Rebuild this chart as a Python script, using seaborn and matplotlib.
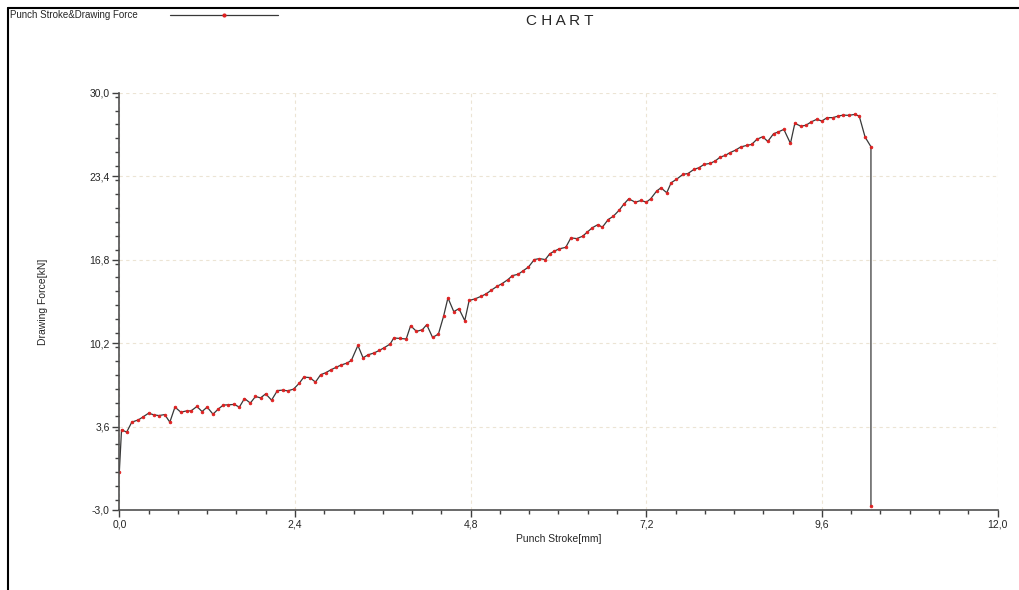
import numpy as np
import pandas as pd
import matplotlib.pyplot as plt
import seaborn as sns
from matplotlib.ticker import FixedLocator, MultipleLocator

# --- DATA ---
stroke = [0.00, 0.03, 0.10, 0.17, 0.26, 0.32, 0.40, 0.47, 0.54, 0.62, 0.69, 0.76,
          0.84, 0.92, 0.98, 1.06, 1.13, 1.20, 1.28, 1.35, 1.42, 1.49, 1.57, 1.64,
          1.71, 1.79, 1.86, 1.93, 2.00, 2.08, 2.16, 2.23, 2.30, 2.38, 2.46, 2.52,
          2.60, 2.68, 2.75, 2.82, 2.89, 2.96, 3.03, 3.11, 3.17, 3.26, 3.33, 3.40,
          3.48, 3.55, 3.62, 3.70, 3.75, 3.84, 3.92, 3.98, 4.06, 4.14, 4.20, 4.28,
          4.36, 4.43, 4.49, 4.57, 4.64, 4.72, 4.78, 4.86, 4.94, 5.01, 5.08, 5.16,
          5.23, 5.31, 5.37, 5.45, 5.52, 5.59, 5.67, 5.74, 5.82, 5.88, 5.94, 6.01,
          6.10, 6.17, 6.25, 6.33, 6.39, 6.46, 6.54, 6.60, 6.68, 6.75, 6.83, 6.89,
          6.96, 7.05, 7.13, 7.20, 7.26, 7.34, 7.40, 7.48, 7.54, 7.61, 7.70, 7.77,
          7.85, 7.92, 7.99, 8.07, 8.14, 8.21, 8.28, 8.34, 8.42, 8.49, 8.57, 8.64,
          8.71, 8.79, 8.86, 8.94, 9.00, 9.08, 9.17, 9.23, 9.31, 9.38, 9.45, 9.53,
          9.60, 9.67, 9.75, 9.82, 9.89, 9.97, 10.05, 10.11, 10.19, 10.27, 10.27]
force = [0.03, 3.35, 3.16, 3.95, 4.13, 4.35, 4.66, 4.53, 4.47, 4.55, 3.95, 5.14,
         4.74, 4.84, 4.84, 5.19, 4.79, 5.14, 4.58, 4.98, 5.30, 5.32, 5.35, 5.14,
         5.82, 5.46, 5.98, 5.87, 6.19, 5.69, 6.45, 6.48, 6.43, 6.56, 7.04, 7.51,
         7.48, 7.12, 7.70, 7.86, 8.09, 8.28, 8.47, 8.62, 8.83, 10.02, 9.04, 9.28,
         9.42, 9.62, 9.84, 10.13, 10.61, 10.57, 10.53, 11.58, 11.13, 11.26, 11.66, 10.65,
         10.92, 12.32, 13.78, 12.69, 12.93, 11.98, 13.58, 13.70, 13.90, 14.09, 14.38, 14.69,
         14.91, 15.23, 15.54, 15.65, 15.94, 16.22, 16.81, 16.89, 16.81, 17.26, 17.47, 17.66,
         17.78, 18.53, 18.47, 18.66, 18.97, 19.32, 19.58, 19.37, 19.98, 20.24, 20.72, 21.17,
         21.62, 21.35, 21.49, 21.35, 21.62, 22.22, 22.49, 22.10, 22.89, 23.15, 23.55, 23.62,
         23.94, 24.08, 24.34, 24.42, 24.60, 24.92, 25.05, 25.26, 25.47, 25.72, 25.84, 25.92,
         26.32, 26.53, 26.16, 26.77, 26.90, 27.11, 26.00, 27.59, 27.37, 27.43, 27.69, 27.91,
         27.77, 28.04, 28.04, 28.16, 28.24, 28.22, 28.30, 28.16, 26.50, 25.74, -2.70]

x_ticks = [0.0, 2.4, 4.8, 7.2, 9.6, 12.0]
y_ticks = [-3.0, 3.6, 10.2, 16.8, 23.4, 30.0]

df = pd.DataFrame({"stroke": stroke, "force": force})

sns.set_theme(style="white")
plt.rcParams['font.family'] = ['Liberation Sans', 'DejaVu Sans']

fig = plt.figure(figsize=(10.2, 5.9), dpi=100)
ax = fig.add_axes([0.117, 0.1356, 0.861, 0.707])

sns.lineplot(data=df, x="stroke", y="force", ax=ax, sort=False, estimator=None,
             color="#383838", linewidth=0.9, marker="o", markersize=2.0,
             markerfacecolor="#e02020", markeredgecolor="#e02020", markeredgewidth=0.5)

ax.set_xlim(0, 12)
ax.set_ylim(-3, 30)
ax.xaxis.set_major_locator(FixedLocator(x_ticks))
ax.yaxis.set_major_locator(FixedLocator(y_ticks))
ax.xaxis.set_minor_locator(MultipleLocator(0.4))
ax.yaxis.set_minor_locator(MultipleLocator(1.1))
ax.set_xticklabels([f"{v:.1f}".replace(".", ",") for v in x_ticks], fontsize=7.5)
ax.set_yticklabels([f"{v:.1f}".replace(".", ",") for v in y_ticks], fontsize=7.5)
ax.tick_params(which="major", direction="out", length=5, width=1, color="#404040",
               bottom=True, left=True, pad=2)
ax.tick_params(which="minor", direction="out", length=3, width=1, color="#404040",
               bottom=True, left=True)

ax.grid(True, which="major", linestyle=(0, (3, 3)), color="#ece4d4", linewidth=0.8)
for s in ["top", "right"]:
    ax.spines[s].set_visible(False)
for s in ["left", "bottom"]:
    ax.spines[s].set_color("#505050")
    ax.spines[s].set_linewidth(1.2)

ax.set_xlabel("Punch Stroke[mm]", fontsize=7.5, labelpad=3)
ax.set_ylabel("Drawing Force[kN]", fontsize=7.5, labelpad=30)

# title and legend at the top of the window
fig.text(0.549, 0.965, "C H A R T", ha="center", va="center", fontsize=11)
fig.text(0.010, 0.974, "Punch Stroke&Drawing Force", ha="left", va="center", fontsize=7)
fig.add_artist(plt.Line2D([0.167, 0.273], [0.974, 0.974], color="#383838", linewidth=0.9))
fig.add_artist(plt.Line2D([0.220], [0.974], marker="o", markersize=2.0,
                          color="#e02020", linestyle="none"))

# window frame
fig.add_artist(plt.Line2D([0.008, 0.008], [0.0, 0.986], color="black", linewidth=1.5))
fig.add_artist(plt.Line2D([0.008, 1.0], [0.986, 0.986], color="black", linewidth=1.5))

fig.savefig("out.png", dpi=100)
